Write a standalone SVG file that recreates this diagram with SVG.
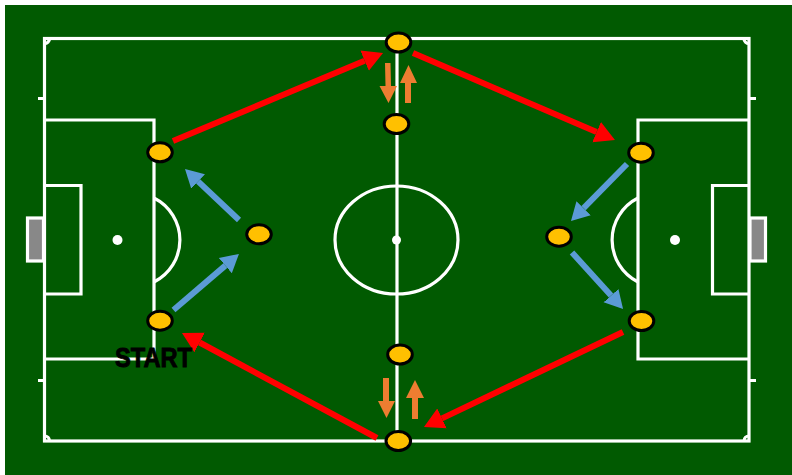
<svg xmlns="http://www.w3.org/2000/svg" width="792" height="475" viewBox="0 0 792 475">
<defs>
<style>
.fl{fill:none;stroke:#fff;stroke-width:3.2}
.dot{fill:#fff}
.goal{fill:#888;stroke:#fff;stroke-width:3.2}
.pl{fill:#FFC000;stroke:#000;stroke-width:3}
.red{stroke:#FF0000;stroke-width:6;fill:none;marker-end:url(#hr)}
.blue{stroke:#5B9BD5;stroke-width:6;fill:none;marker-end:url(#hb)}
.org{fill:#ED7D31}
.lbl{font-family:"Liberation Sans",Arial,sans-serif;font-weight:bold;font-size:27px;fill:#000;stroke:#000;stroke-width:0.9}
</style>
<marker id="hr" markerUnits="userSpaceOnUse" markerWidth="24" markerHeight="26" viewBox="0 -13 24 26" refX="0" refY="0" orient="auto">
<path d="M0,-11 L20,0 L0,11 z" fill="#FF0000"/>
</marker>
<marker id="hb" markerUnits="userSpaceOnUse" markerWidth="24" markerHeight="26" viewBox="0 -13 24 26" refX="0" refY="0" orient="auto">
<path d="M0,-10 L18,0 L0,10 z" fill="#5B9BD5"/>
</marker>
</defs>
<rect x="0" y="0" width="792" height="475" fill="#fff"/>
<rect x="5" y="5" width="787" height="470" fill="#015A01"/>
<g id="pitch">
<rect class="fl" x="44.5" y="38.5" width="704.5" height="402.5"/>
<line class="fl" x1="397" y1="38.5" x2="397" y2="441"/>
<ellipse class="fl" cx="396.5" cy="240" rx="61.5" ry="54"/>
<circle class="dot" cx="396.5" cy="240" r="4.5"/>
<path class="fl" d="M44.5,43.5 A5,5 0 0 0 49.5,38.5 M744,38.5 A5,5 0 0 0 749,43.5 M749,436 A5,5 0 0 0 744,441 M49.5,441 A5,5 0 0 0 44.5,436"/>
<path class="fl" d="M38,98.5 H44.5 M38,380.5 H44.5 M749,98.5 H756 M749,380.5 H756"/>
<path class="fl" d="M44.5,120 H154 V359 H44.5"/>
<path class="fl" d="M44.5,185.5 H81 V294 H44.5"/>
<path class="fl" d="M154,198 A47,47 0 0 1 154,282"/>
<circle class="dot" cx="117.5" cy="240" r="5"/>
<rect class="goal" x="27.5" y="218" width="16" height="43"/>
<path class="fl" d="M749,120 H638 V359 H749"/>
<path class="fl" d="M749,185.5 H712.5 V294 H749"/>
<path class="fl" d="M638,198 A47,47 0 0 0 638,282"/>
<circle class="dot" cx="675" cy="240" r="5"/>
<rect class="goal" x="750" y="218" width="15.5" height="43"/>
</g>
<g id="connectors">
<line class="red" x1="173" y1="141" x2="364.6" y2="60.7"/>
<line class="red" x1="413" y1="53" x2="596.6" y2="132.1"/>
<line class="red" x1="623" y1="332" x2="442" y2="418.4"/>
<line class="red" x1="377" y1="438" x2="199.6" y2="342.5"/>
<line class="blue" x1="239" y1="220" x2="198.1" y2="181.4"/>
<line class="blue" x1="173.5" y1="310" x2="225.3" y2="265.6"/>
<line class="blue" x1="627" y1="164" x2="583.6" y2="208.2"/>
<line class="blue" x1="572" y1="252.5" x2="611" y2="295.6"/>
<polygon class="org" points="385,63 390.5,63 391,86 397,86 388.5,103 379.5,86 385.5,86"/>
<polygon class="org" points="405,103 411,103 411,83 417,83 408.5,65 400,83 405,83"/>
<polygon class="org" points="383,378 389,378 389,401 395,401 386.5,418 378,401 383,401"/>
<polygon class="org" points="412,419 418,419 418,398 424,398 415,380 406,398 412,398"/>
</g>
<g id="p1"><ellipse class="pl" cx="398.5" cy="42.5" rx="12.3" ry="9.5"/></g>
<g id="p2"><ellipse class="pl" cx="396.5" cy="124" rx="12.3" ry="9.5"/></g>
<g id="p3"><ellipse class="pl" cx="160" cy="152.3" rx="12.3" ry="9.5"/></g>
<g id="p4"><ellipse class="pl" cx="259" cy="234.3" rx="12.3" ry="9.5"/></g>
<g id="p5"><ellipse class="pl" cx="160" cy="320.7" rx="12.3" ry="9.5"/></g>
<g id="p6"><ellipse class="pl" cx="400" cy="354.5" rx="12.3" ry="9.5"/></g>
<g id="p7"><ellipse class="pl" cx="398.3" cy="441" rx="12.3" ry="9.5"/></g>
<g id="p8"><ellipse class="pl" cx="641" cy="152.7" rx="12.3" ry="9.5"/></g>
<g id="p9"><ellipse class="pl" cx="559" cy="236.7" rx="12.3" ry="9.5"/></g>
<g id="p10"><ellipse class="pl" cx="641.5" cy="321" rx="12.3" ry="9.5"/></g>
<g id="start"><text class="lbl" x="115" y="367" textLength="77" lengthAdjust="spacingAndGlyphs">START</text></g>
</svg>
